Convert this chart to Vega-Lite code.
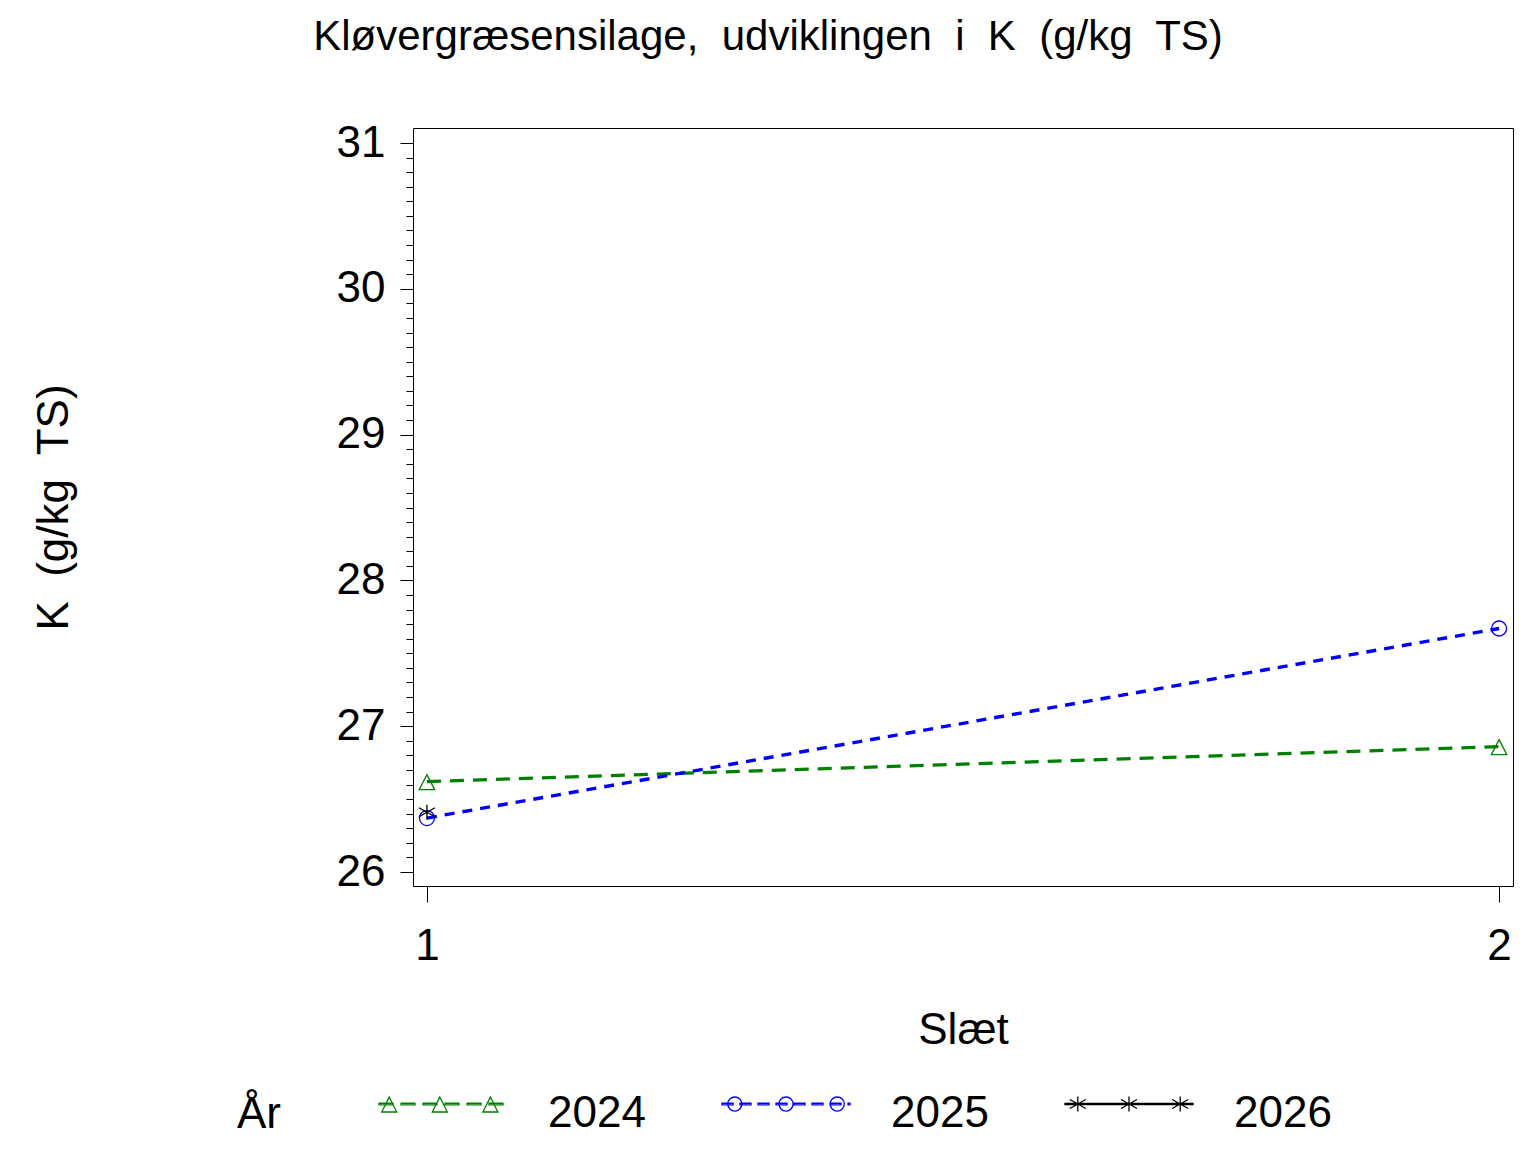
{
  "$schema": "https://vega.github.io/schema/vega-lite/v6.json",
  "description": "Kløvergræsensilage, udviklingen i K (g/kg TS) efter slæt og år.",
  "width": 1100,
  "height": 758,
  "autosize": {"type": "none"},
  "padding": {"left": 413, "top": 128, "right": 23, "bottom": 266},
  "background": "white",
  "title": {
    "text": "Kløvergræsensilage,\u00a0 udviklingen\u00a0 i\u00a0 K\u00a0 (g/kg\u00a0 TS)",
    "frame": "group",
    "anchor": "middle",
    "dx": -195,
    "baseline": "alphabetic",
    "offset": 29,
    "fontSize": 42,
    "fontWeight": "normal",
    "color": "black"
  },
  "data": {
    "values": [
      {"aar": "2024", "slaet": 1, "K": 26.62},
      {"aar": "2024", "slaet": 2, "K": 26.86},
      {"aar": "2025", "slaet": 1, "K": 26.37},
      {"aar": "2025", "slaet": 2, "K": 27.67},
      {"aar": "2026", "slaet": 1, "K": 26.41}
    ]
  },
  "layer": [
    {
      "mark": {"type": "line", "strokeWidth": 3.4},
      "encoding": {
        "x": {
          "field": "slaet",
          "type": "quantitative",
          "scale": {"domain": [0.987, 2.013], "nice": false, "zero": false},
          "axis": {
            "values": [1, 2],
            "format": "d",
            "title": "Slæt",
            "domain": false,
            "grid": false,
            "tickSize": 16,
            "tickColor": "black",
            "tickWidth": 1,
            "labelPadding": 22,
            "labelFontSize": 44,
            "labelColor": "black",
            "titleFontSize": 44,
            "titleFontWeight": "normal",
            "titleColor": "black",
            "titleX": 550,
            "titleY": 157,
            "titleBaseline": "alphabetic"
          }
        },
        "y": {
          "field": "K",
          "type": "quantitative",
          "scale": {"domain": [25.904, 31.103], "nice": false, "zero": false},
          "axis": {
            "values": [26, 27, 28, 29, 30, 31],
            "title": "K\u00a0 (g/kg\u00a0 TS)",
            "domain": false,
            "grid": false,
            "tickSize": 13,
            "tickColor": "black",
            "tickWidth": 1,
            "labelPadding": 15,
            "labelFontSize": 44,
            "labelColor": "black",
            "titleFontSize": 44,
            "titleFontWeight": "normal",
            "titleColor": "black",
            "titleAngle": -90,
            "titleX": -346,
            "titleY": 379,
            "titleAlign": "center",
            "titleBaseline": "alphabetic"
          }
        },
        "color": {
          "field": "aar",
          "type": "nominal",
          "scale": {"domain": ["2024", "2025", "2026"], "range": ["#008000", "#0000ff", "#000000"]},
          "legend": null
        },
        "strokeDash": {
          "field": "aar",
          "type": "nominal",
          "scale": {"domain": ["2024", "2025", "2026"], "range": [[14, 9], [10, 8], [1, 0]]},
          "legend": null
        }
      }
    },
    {
      "mark": {"type": "point", "filled": false, "size": 225, "strokeWidth": 1.3, "opacity": 1},
      "encoding": {
        "x": {
          "field": "slaet",
          "type": "quantitative",
          "axis": {
            "values": [1, 2],
            "format": "d",
            "title": "Slæt",
            "domain": false,
            "grid": false,
            "tickSize": 16,
            "tickColor": "black",
            "tickWidth": 1,
            "labelPadding": 22,
            "labelFontSize": 44,
            "labelColor": "black",
            "titleFontSize": 44,
            "titleFontWeight": "normal",
            "titleColor": "black",
            "titleX": 550,
            "titleY": 157,
            "titleBaseline": "alphabetic"
          }
        },
        "y": {
          "field": "K",
          "type": "quantitative",
          "axis": {
            "orient": "left",
            "values": [26.1, 26.2, 26.3, 26.4, 26.5, 26.6, 26.7, 26.8, 26.9, 27.1, 27.2, 27.3, 27.4, 27.5, 27.6, 27.7, 27.8, 27.9, 28.1, 28.2, 28.3, 28.4, 28.5, 28.6, 28.7, 28.8, 28.9, 29.1, 29.2, 29.3, 29.4, 29.5, 29.6, 29.7, 29.8, 29.9, 30.1, 30.2, 30.3, 30.4, 30.5, 30.6, 30.7, 30.8, 30.9],
            "labels": false,
            "title": null,
            "domain": false,
            "grid": false,
            "tickSize": 7,
            "tickColor": "black",
            "tickWidth": 1
          }
        },
        "color": {
          "field": "aar",
          "type": "nominal",
          "scale": {"domain": ["2024", "2025", "2026"], "range": ["#008000", "#0000ff", "#000000"]},
          "legend": null
        },
        "shape": {
          "field": "aar",
          "type": "nominal",
          "scale": {
            "domain": ["2024", "2025", "2026"],
            "range": [
              "M0,-0.93L1.03,1.07L-1.03,1.07Z",
              "circle",
              "M0,-1V1M-1.07,-0.6L1.07,0.6M-1.07,0.6L1.07,-0.6"
            ]
          },
          "legend": null
        }
      }
    },
    {
      "transform": [{"filter": "false"}],
      "mark": {"type": "point", "filled": false, "size": 16384, "strokeWidth": 1.3, "opacity": 1},
      "encoding": {
        "color": {
          "field": "aar",
          "type": "nominal",
          "scale": {"domain": ["2024", "2025", "2026"], "range": ["#008000", "#0000ff", "#000000"]},
          "legend": {
            "title": "År",
            "orient": "none",
            "legendX": -176,
            "legendY": 921,
            "direction": "horizontal",
            "titleOrient": "left",
            "titleAnchor": "middle",
            "titleBaseline": "top",
            "titlePadding": 97,
            "titleFontSize": 44,
            "titleFontWeight": "normal",
            "titleColor": "black",
            "labelFontSize": 44,
            "labelColor": "black",
            "labelOffset": 40,
            "columnPadding": 73,
            "symbolSize": 16384,
            "symbolStrokeWidth": 1.3,
            "symbolFillColor": "transparent"
          }
        },
        "shape": {
          "field": "aar",
          "type": "nominal",
          "scale": {
            "domain": ["2024", "2025", "2026"],
            "range": [
              "M-1,-0.168H-0.781V-0.144H-1ZM-0.656,-0.168H-0.4375V-0.144H-0.656ZM-0.3125,-0.168H-0.094V-0.144H-0.3125ZM0.031,-0.168H0.25V-0.144H0.031ZM0.375,-0.168H0.594V-0.144H0.375ZM0.719,-0.168H0.9375V-0.144H0.719ZM-0.84,-0.266L-0.723,-0.031L-0.957,-0.031ZM-0.05,-0.266L0.067,-0.031L-0.167,-0.031ZM0.74,-0.266L0.857,-0.031L0.623,-0.031Z",
              "M-1,-0.168H-0.828V-0.144H-1ZM-0.719,-0.168H-0.547V-0.144H-0.719ZM-0.4375,-0.168H-0.266V-0.144H-0.4375ZM-0.156,-0.168H0.016V-0.144H-0.156ZM0.125,-0.168H0.297V-0.144H0.125ZM0.406,-0.168H0.578V-0.144H0.406ZM0.6875,-0.168H0.859V-0.144H0.6875ZM0.969,-0.168H1V-0.144H0.969ZM-0.91,-0.156A0.11,0.11 0 1,0 -0.69,-0.156A0.11,0.11 0 1,0 -0.91,-0.156ZM-0.11,-0.156A0.11,0.11 0 1,0 0.11,-0.156A0.11,0.11 0 1,0 -0.11,-0.156ZM0.69,-0.156A0.11,0.11 0 1,0 0.91,-0.156A0.11,0.11 0 1,0 0.69,-0.156Z",
              "M-1,-0.166H1V-0.146H-1ZM-0.8,-0.273V-0.039M-0.925,-0.226L-0.675,-0.086M-0.925,-0.086L-0.675,-0.226M0,-0.273V-0.039M-0.125,-0.226L0.125,-0.086M-0.125,-0.086L0.125,-0.226M0.8,-0.273V-0.039M0.675,-0.226L0.925,-0.086M0.675,-0.086L0.925,-0.226"
            ]
          },
          "legend": {
            "title": "År",
            "orient": "none",
            "legendX": -176,
            "legendY": 921,
            "direction": "horizontal",
            "titleOrient": "left",
            "titleAnchor": "middle",
            "titleBaseline": "top",
            "titlePadding": 97,
            "titleFontSize": 44,
            "titleFontWeight": "normal",
            "titleColor": "black",
            "labelFontSize": 44,
            "labelColor": "black",
            "labelOffset": 40,
            "columnPadding": 73,
            "symbolSize": 16384,
            "symbolStrokeWidth": 1.5,
            "symbolFillColor": "transparent"
          }
        }
      }
    }
  ],
  "resolve": {
    "scale": {"shape": "independent", "color": "independent"},
    "axis": {"y": "independent"}
  },
  "config": {
    "font": "Liberation Sans",
    "view": {"stroke": "black", "strokeWidth": 1},
    "axis": {"labelFont": "Liberation Sans", "titleFont": "Liberation Sans"},
    "legend": {"labelFont": "Liberation Sans", "titleFont": "Liberation Sans"}
  }
}
